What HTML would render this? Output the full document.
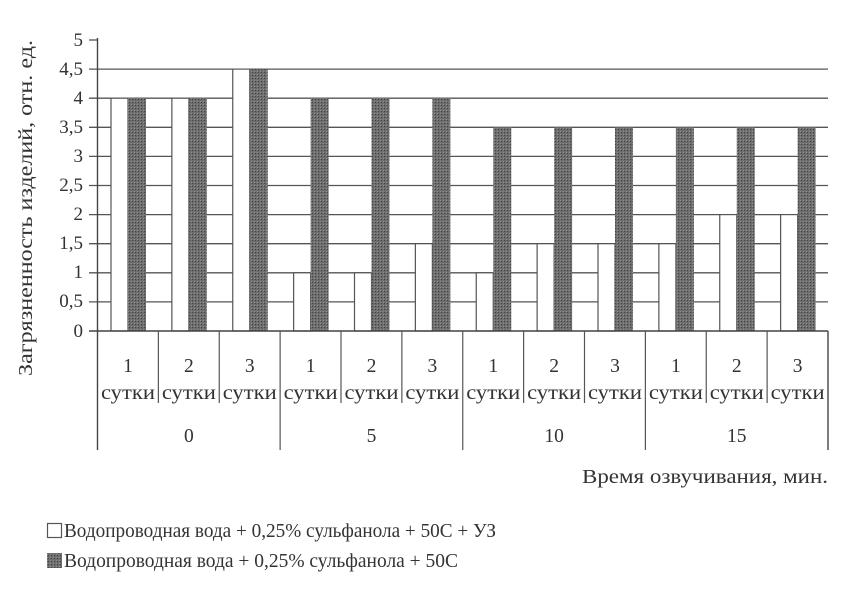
<!DOCTYPE html>
<html><head><meta charset="utf-8"><style>
html,body{margin:0;padding:0;background:#fff;}
svg{display:block;font-family:"Liberation Serif",serif;}
</style></head><body>
<svg width="850" height="603" viewBox="0 0 850 603" xmlns="http://www.w3.org/2000/svg">
<defs>
<pattern id="dk" width="3" height="3" patternUnits="userSpaceOnUse">
<rect width="3" height="3" fill="#6e6e6e"/><rect width="1" height="1" fill="#404040"/><rect x="2" y="2" width="1" height="1" fill="#909090"/>
</pattern>
</defs>
<g stroke="#555" stroke-width="1.3">
<line x1="89" y1="69.1" x2="828" y2="69.1"/>
<line x1="89" y1="98.2" x2="828" y2="98.2"/>
<line x1="89" y1="127.3" x2="828" y2="127.3"/>
<line x1="89" y1="156.4" x2="828" y2="156.4"/>
<line x1="89" y1="185.5" x2="828" y2="185.5"/>
<line x1="89" y1="214.6" x2="828" y2="214.6"/>
<line x1="89" y1="243.7" x2="828" y2="243.7"/>
<line x1="89" y1="272.8" x2="828" y2="272.8"/>
<line x1="89" y1="301.9" x2="828" y2="301.9"/>
<line x1="89" y1="40" x2="98" y2="40"/>
</g>
<g id="bars"></g>
<g stroke="#444" stroke-width="1.4" fill="none">
<line x1="97.5" y1="38" x2="97.5" y2="450"/>
<line x1="89" y1="331" x2="828" y2="331"/>
<line x1="828" y1="331" x2="828" y2="450"/>
</g>
<g font-size="19" fill="#333" text-anchor="end">
<text x="83" y="46">5</text><text x="83" y="75">4,5</text><text x="83" y="104">4</text>
<text x="83" y="133">3,5</text><text x="83" y="162">3</text><text x="83" y="191">2,5</text>
<text x="83" y="220">2</text><text x="83" y="249">1,5</text><text x="83" y="278">1</text>
<text x="83" y="307">0,5</text><text x="83" y="337">0</text>
</g>
<text transform="translate(32,208) rotate(-90)" font-size="20.5" fill="#333" text-anchor="middle" textLength="336" lengthAdjust="spacingAndGlyphs">Загрязненность изделий, отн. ед.</text>
<g id="tbl" font-size="19.5" fill="#333" text-anchor="middle"></g>
<text x="828" y="483" font-size="20.5" fill="#333" text-anchor="end" textLength="246" lengthAdjust="spacingAndGlyphs">Время озвучивания, мин.</text>
<rect x="47.5" y="523.5" width="14" height="14" fill="#fff" stroke="#555" stroke-width="1.2"/>
<text x="64" y="537" font-size="20" fill="#333" textLength="432" lengthAdjust="spacingAndGlyphs">Водопроводная вода + 0,25% сульфанола + 50С + УЗ</text>
<rect x="47" y="553" width="15" height="15" fill="url(#dk)"/>
<text x="64" y="567" font-size="20" fill="#333" textLength="394" lengthAdjust="spacingAndGlyphs">Водопроводная вода + 0,25% сульфанола + 50С</text>
<script>
var w=[4,4,4.5,1,1,1.5,1,1.5,1.5,1.5,2,2],d=[4,4,4.5,4,4,4,3.5,3.5,3.5,3.5,3.5,3.5];
var g=document.getElementById('bars'),t=document.getElementById('tbl'),ns="http://www.w3.org/2000/svg";
var x0=97.5,gw=(828-97.5)/12,y0=331,u=58.2;
function el(n,a,p,txt){var e=document.createElementNS(ns,n);for(var k in a)e.setAttribute(k,a[k]);if(txt)e.textContent=txt;p.appendChild(e);return e;}
for(var i=0;i<12;i++){var gx=x0+i*gw;
el('rect',{x:gx+13.5,y:y0-w[i]*u,width:17,height:w[i]*u,fill:'#fff',stroke:'#555','stroke-width':1.2},g);
el('rect',{x:gx+30.5,y:y0-d[i]*u,width:18,height:d[i]*u,fill:'url(#dk)'},g);
if(i>0)el('line',{x1:gx,y1:331,x2:gx,y2:(i%3==0?450:403),stroke:'#555','stroke-width':1.2},t);
el('text',{x:gx+gw/2,y:372},t,String(i%3+1));
el('text',{x:gx+gw/2,y:399,textLength:54,lengthAdjust:'spacingAndGlyphs'},t,'сутки');}
var L=['0','5','10','15'];for(var j=0;j<4;j++)el('text',{x:x0+(j*3+1.5)*gw,y:442},t,L[j]);
</script>
</svg>
</body></html>
